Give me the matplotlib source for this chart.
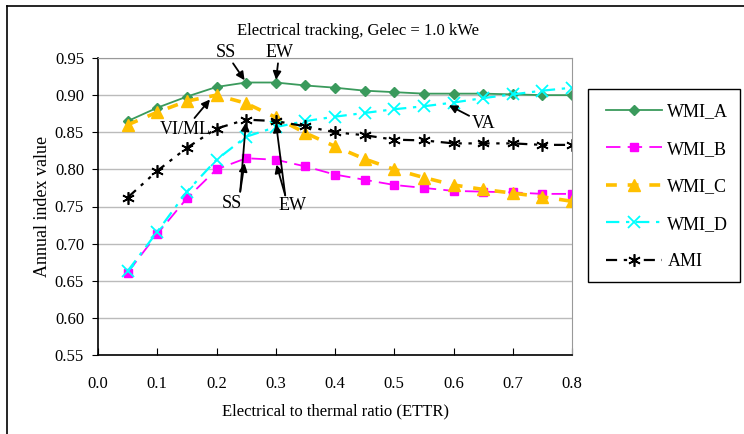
import matplotlib
matplotlib.use("Agg")
import matplotlib.pyplot as plt
from matplotlib.lines import Line2D
from matplotlib.patches import Rectangle

plt.rcParams['font.family'] = ['Liberation Serif', 'DejaVu Serif']

ettr = [0.05, 0.10, 0.15, 0.20, 0.25, 0.30, 0.35, 0.40, 0.45, 0.50, 0.55, 0.60, 0.65, 0.70, 0.75, 0.80]
wmi_a = [0.865, 0.883, 0.898, 0.911, 0.917, 0.917, 0.913, 0.910, 0.906, 0.904, 0.902, 0.902, 0.902, 0.901, 0.900, 0.900]
wmi_b = [0.661, 0.713, 0.761, 0.800, 0.815, 0.813, 0.804, 0.793, 0.786, 0.779, 0.775, 0.771, 0.770, 0.769, 0.767, 0.767]
wmi_c = [0.860, 0.877, 0.892, 0.900, 0.889, 0.870, 0.849, 0.831, 0.814, 0.800, 0.789, 0.779, 0.773, 0.768, 0.763, 0.757]
wmi_d = [0.663, 0.716, 0.770, 0.813, 0.844, 0.857, 0.865, 0.871, 0.876, 0.881, 0.885, 0.890, 0.896, 0.901, 0.906, 0.910]
ami = [0.762, 0.798, 0.829, 0.855, 0.867, 0.865, 0.858, 0.850, 0.846, 0.840, 0.839, 0.835, 0.835, 0.835, 0.833, 0.833]

xticks = [0.0, 0.1, 0.2, 0.3, 0.4, 0.5, 0.6, 0.7, 0.8]
yticks = [0.55, 0.60, 0.65, 0.70, 0.75, 0.80, 0.85, 0.90, 0.95]

fig = plt.figure(figsize=(7.44, 4.34), dpi=100)
ax = fig.add_axes([98/744, 1-355/434, (572-98)/744, (355-58)/434])

styles = [
    dict(color='#3A9A5C', lw=1.3, ls='-', marker='D', ms=5),
    dict(color='#FF00FF', lw=1.3, ls=(0, (8, 4)), marker='s', ms=6),
    dict(color='#FFC000', lw=2.6, ls=(0, (3, 3)), marker='^', ms=8),
    dict(color='#00FFFF', lw=1.6, ls=(0, (6, 3, 1.5, 3)), marker='x', ms=8, mew=1.3),
    dict(color='black', lw=1.6, ls=(0, (5, 3, 1.5, 3, 1.5, 3)), marker=(6, 2, 0), ms=9, mew=1.2),
]
names = ['WMI_A', 'WMI_B', 'WMI_C', 'WMI_D', 'AMI']
for ys, st, nm in zip([wmi_a, wmi_b, wmi_c, wmi_d, ami], styles, names):
    ax.plot(ettr, ys, label=nm, **st)

ax.set_xlim(0.0, 0.8)
ax.set_ylim(0.55, 0.95)
ax.set_xticks(xticks)
ax.set_xticklabels([f"{v:.1f}" for v in xticks])
ax.set_yticks(yticks)
ax.set_yticklabels([f"{v:.2f}" for v in yticks])
ax.tick_params(axis='x', direction='in', length=5, labelsize=12, pad=15)
ax.tick_params(axis='y', direction='out', length=4, labelsize=12, pad=6)
ax.yaxis.grid(True, color='#BBBBBB', lw=1)
ax.set_axisbelow(True)
for s in ['top', 'right']:
    ax.spines[s].set_color('#999999')
for s in ['left', 'bottom']:
    ax.spines[s].set_color('black')
    ax.spines[s].set_linewidth(1.2)

ax.set_xlabel('Electrical to thermal ratio (ETTR)', fontsize=12, labelpad=8)
ax.set_ylabel('Annual index value', fontsize=13, labelpad=3)
fig.text(358/744, 1-31/434, 'Electrical tracking, Gelec = 1.0 kWe', ha='center', va='center', fontsize=12)

ap = dict(arrowstyle='-|>', color='black', lw=1.3, mutation_scale=12, shrinkA=0, shrinkB=2)
ax.annotate('SS', xy=(ettr[4], wmi_a[4]), xytext=(0.215, 0.958), ha='center', va='center', fontsize=13, arrowprops=ap, annotation_clip=False)
ax.annotate('EW', xy=(ettr[5], wmi_a[5]), xytext=(0.306, 0.958), ha='center', va='center', fontsize=13, arrowprops=ap, annotation_clip=False)
ax.annotate('VI/ML', xy=(ettr[3] - 0.008, wmi_c[3] - 0.003), xytext=(0.147, 0.854), ha='center', va='center', fontsize=13, arrowprops=ap)
ax.text(0.226, 0.754, 'SS', ha='center', va='center', fontsize=13)
ax.annotate('', xy=(ettr[4], ami[4]), xytext=(0.240, 0.770), arrowprops=ap)
ax.annotate('', xy=(ettr[4] - 0.002, wmi_b[4] - 0.003), xytext=(0.240, 0.770), arrowprops=ap)
ax.text(0.329, 0.751, 'EW', ha='center', va='center', fontsize=13)
ax.annotate('', xy=(ettr[5], ami[5]), xytext=(0.316, 0.765), arrowprops=ap)
ax.annotate('', xy=(ettr[5], wmi_b[5] - 0.003), xytext=(0.316, 0.765), arrowprops=ap)
ax.annotate('VA', xy=(ettr[11] - 0.012, wmi_d[11] - 0.002), xytext=(0.651, 0.862), ha='center', va='center', fontsize=13, arrowprops=ap)

handles = [Line2D([], [], **st) for st in styles]
leg = fig.legend(handles, names,
                 loc='upper left', bbox_to_anchor=(588/744, 1-85/434),
                 fontsize=13, frameon=False,
                 handlelength=3.1, labelspacing=1.14, borderpad=1.0, handletextpad=0.3,
                 borderaxespad=0)
fig.add_artist(Rectangle((588/744, 1-282/434), (740-588)/744, (282-89)/434,
                         transform=fig.transFigure, fill=False, edgecolor='black', lw=1.0))

fig.add_artist(Line2D([7/744, 7/744], [0, 1-6/434], transform=fig.transFigure, color='black', lw=1.2))
fig.add_artist(Line2D([7/744, 1], [1-6/434, 1-6/434], transform=fig.transFigure, color='black', lw=1.2))

fig.savefig('out.png', dpi=100)
